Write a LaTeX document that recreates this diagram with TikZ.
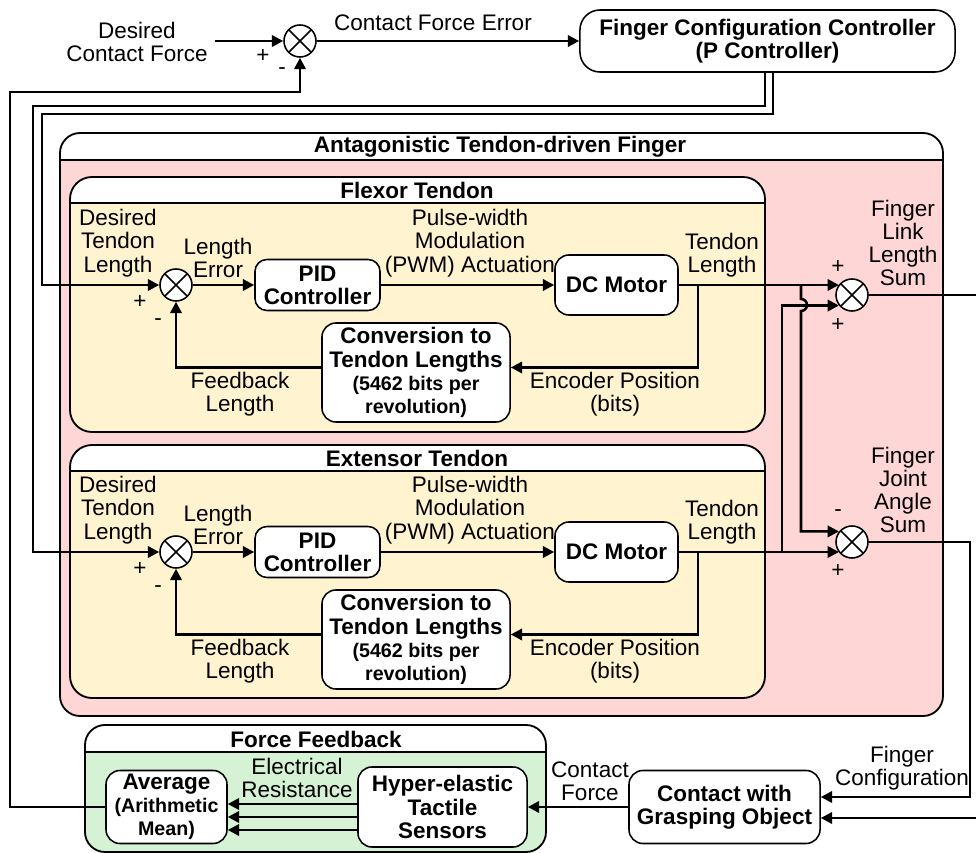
\documentclass[tikz,border=0pt]{standalone}
\usepackage{fontspec}
\setmainfont{Liberation Sans}
\usetikzlibrary{arrows.meta}
\definecolor{pinkf}{RGB}{255,214,214}
\definecolor{yellowf}{RGB}{255,243,208}
\definecolor{greenf}{RGB}{213,242,213}
\tikzset{
 lbl/.style={font=\fontsize{16}{16.5}\selectfont, align=center, inner sep=0pt},
 blk/.style={draw, line width=1.1pt, fill=white, rounded corners=0.35cm, align=center, inner sep=0pt, font=\fontsize{16}{16.5}\selectfont\bfseries},
 sumc/.style={circle, draw, line width=1.1pt, fill=white, minimum size=0.8cm, inner sep=0pt,
   path picture={\draw[line width=1.1pt] (path picture bounding box.north west) -- (path picture bounding box.south east) (path picture bounding box.north east) -- (path picture bounding box.south west);}},
 conn/.style={line width=1.8pt, -{Triangle[length=8pt,width=8pt]}},
 wire/.style={line width=1.8pt},
 cont/.style={line width=1.3pt},
 ttl/.style={font=\fontsize{16}{16.5}\selectfont\bfseries, inner sep=0pt}
}
\newcommand\smallb{\fontsize{14}{15}\selectfont}
\begin{document}
\begin{tikzpicture}[x=0.025cm,y=-0.025cm]
\useasboundingbox (0,0) rectangle (976,853);
% ---------- containers ----------
\begin{scope}
\clip[rounded corners=0.5cm] (60,133) rectangle (943,716);
\fill[pinkf] (60,133) rectangle (943,716);
\fill[white] (60,133) rectangle (943,160);
\end{scope}
\draw[cont, rounded corners=0.5cm] (60,133) rectangle (943,716);
\draw[cont] (60,160) -- (943,160);
\node[ttl] (tAnt) at (500,147) {Antagonistic Tendon-driven Finger};

\begin{scope}
\clip[rounded corners=0.55cm] (70,177) rectangle (765,432);
\fill[yellowf] (70,177) rectangle (765,432);
\fill[white] (70,177) rectangle (765,203);
\end{scope}
\draw[cont, rounded corners=0.55cm] (70,177) rectangle (765,432);
\draw[cont] (70,203) -- (765,203);
\node[ttl] (tFlex) at (417,190) {Flexor Tendon};

\begin{scope}
\clip[rounded corners=0.55cm] (70,445) rectangle (765,698);
\fill[yellowf] (70,445) rectangle (765,698);
\fill[white] (70,445) rectangle (765,471);
\end{scope}
\draw[cont, rounded corners=0.55cm] (70,445) rectangle (765,698);
\draw[cont] (70,471) -- (765,471);
\node[ttl] (tExt) at (417,458) {Extensor Tendon};

\begin{scope}
\clip[rounded corners=0.5cm] (85,725) rectangle (546,852);
\fill[greenf] (85,725) rectangle (546,852);
\fill[white] (85,725) rectangle (546,752);
\end{scope}
\draw[cont, rounded corners=0.5cm] (85,725) rectangle (546,852);
\draw[cont] (85,752) -- (546,752);
\node[ttl] (tFF) at (316,739) {Force Feedback};

% ---------- blocks ----------
\node[blk, minimum width=9.375cm, minimum height=1.55cm, rounded corners=0.5cm] (fcc) at (767.5,41) {Finger Configuration Controller\\(P Controller)};
\node[sumc] (s0) at (300,41) {};

\node[sumc] (s1) at (176,285) {};
\node[blk, minimum width=3.125cm, minimum height=1.275cm, rounded corners=0.3cm] (pid1) at (317.5,285) {PID\\Controller};
\node[blk, minimum width=3.075cm, minimum height=1.5cm] (dc1) at (616.5,285) {DC Motor};
\node[blk, minimum width=4.7cm, minimum height=2.475cm] (conv1) at (416,372.5) {Conversion to\\Tendon Lengths\\\smallb(5462 bits per\\\smallb revolution)};

\node[sumc] (s2) at (176,552) {};
\node[blk, minimum width=3.125cm, minimum height=1.275cm, rounded corners=0.3cm] (pid2) at (317.5,552) {PID\\Controller};
\node[blk, minimum width=3.075cm, minimum height=1.5cm] (dc2) at (616.5,552) {DC Motor};
\node[blk, minimum width=4.7cm, minimum height=2.475cm] (conv2) at (416,639.5) {Conversion to\\Tendon Lengths\\\smallb(5462 bits per\\\smallb revolution)};

\node[sumc] (sL) at (852,295) {};
\node[sumc] (sJ) at (852,542) {};

\node[blk, minimum width=3.025cm, minimum height=1.825cm] (avg) at (166.5,807) {Average\\\smallb(Arithmetic\\\smallb Mean)};
\node[blk, minimum width=4.225cm, minimum height=2.0cm] (hyp) at (442.5,807) {Hyper-elastic\\Tactile\\Sensors};
\node[blk, minimum width=4.775cm, minimum height=1.825cm] (contact) at (724.5,807) {Contact with\\Grasping Object};

% ---------- labels ----------
\node[lbl] (lDCF) at (137,42) {Desired\\Contact Force};
\node[lbl] (p0) at (263,56) {+};
\node[lbl] (m0) at (282,71) {-};
\node[lbl] (lCFE) at (433,23) {Contact Force Error};

\node[lbl] (lDT1) at (118,243) {Desired\\Tendon\\Length};
\node[lbl] (p1) at (140,302) {+};
\node[lbl] (m1) at (158,322) {-};
\node[lbl] (lLE1) at (218,258) {Length\\Error};
\node[lbl] (lPWM1) at (470,243) {Pulse-width\\Modulation\\(PWM) Actuation};
\node[lbl] (lTL1) at (722,255) {Tendon\\Length};
\node[lbl] (lEP1) at (615,394) {Encoder Position\\(bits)};
\node[lbl] (lFL1) at (240,394) {Feedback\\Length};

\node[lbl] (lDT2) at (118,510) {Desired\\Tendon\\Length};
\node[lbl] (p2) at (140,569) {+};
\node[lbl] (m2) at (158,589) {-};
\node[lbl] (lLE2) at (218,525) {Length\\Error};
\node[lbl] (lPWM2) at (470,510) {Pulse-width\\Modulation\\(PWM) Actuation};
\node[lbl] (lTL2) at (722,522) {Tendon\\Length};
\node[lbl] (lEP2) at (615,661) {Encoder Position\\(bits)};
\node[lbl] (lFL2) at (240,661) {Feedback\\Length};

\node[lbl] (lFLL) at (903,243) {Finger\\Link\\Length\\Sum};
\node[lbl] (pL1) at (838,267) {+};
\node[lbl] (pL2) at (838,325) {+};
\node[lbl] (lFJA) at (903,490) {Finger\\Joint\\Angle\\Sum};
\node[lbl] (mJ) at (838,513) {-};
\node[lbl] (pJ) at (838,571) {+};

\node[lbl] (lFC) at (902,768) {Finger\\Configuration};
\node[lbl] (lCF) at (590,781) {Contact\\Force};
\node[lbl] (lER) at (297,778) {Electrical\\Resistance};

% ---------- connectors ----------
\coordinate (cDCF) at (215,41);
\draw[conn] (cDCF) -- (s0.west);
\draw[conn] (s0.east) -- (fcc.west);
\draw[conn] ([xshift=-0.0625cm]fcc.south) -- ++(0,33) -| (33,552) -- (s2.west);
\draw[conn] ([xshift=0.1375cm]fcc.south) -- ++(0,41) -| (42,285) -- (s1.west);
\draw[conn] (avg.west) -| (10,92) -| (s0.south);

% flexor loop
\draw[conn] (s1.east) -- (pid1.west);
\draw[conn] (pid1.east) -- (dc1.west);
\draw[conn] (dc1.east) -- (dc1.east -| sL.141);
\coordinate (j1) at (698,285);
\draw[conn] (j1) |- ([yshift=0.125cm]conv1.east);
\draw[conn] ([yshift=0.125cm]conv1.west) -| (s1.south);

% extensor loop
\draw[conn] (s2.east) -- (pid2.west);
\draw[conn] (pid2.east) -- (dc2.west);
\draw[conn] (dc2.east) -- (dc2.east -| sJ.219);
\coordinate (j2) at (698,552);
\draw[conn] (j2) |- ([yshift=0.125cm]conv2.east);
\draw[conn] ([yshift=0.125cm]conv2.west) -| (s2.south);

% cross connections
\coordinate (j3) at (782,552);
\draw[conn] (j3) |- (sL.219);
\coordinate (j4) at (801,285);
\draw[conn] (j4) -- (801,299) arc[start angle=90,end angle=-90,radius=0.15cm] |- (sJ.141);

% outputs
\coordinate (eR1) at (976,295);
\draw[wire] (sL.east) -- (eR1);
\coordinate (k1) at (970,542);
\draw[conn] (sJ.east) -- (k1) |- ([yshift=0.25cm]contact.east);
\coordinate (eR2) at (976,818);
\draw[conn] (eR2) -- (eR2 -| contact.east);

% force feedback
\draw[conn] (contact.west) -- (hyp.east);
\draw[conn] (hyp.west |- 0,804) -- (avg.east |- 0,804);
\draw[conn] (hyp.west |- 0,817) -- (avg.east |- 0,817);
\draw[conn] (hyp.west |- 0,830) -- (avg.east |- 0,830);
\end{tikzpicture}
\end{document}
